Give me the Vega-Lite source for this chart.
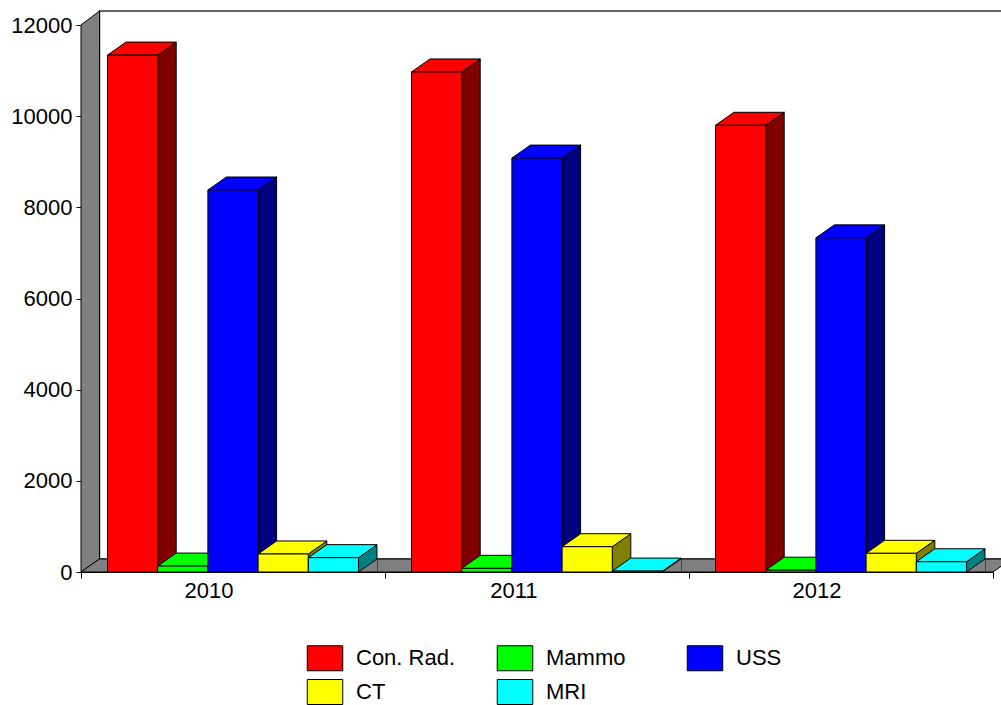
{
  "$schema": "https://vega.github.io/schema/vega-lite/v6.json",
  "width": 912,
  "height": 547,
  "autosize": {"type": "none"},
  "padding": {"left": 81, "top": 25, "right": 8, "bottom": 133},
  "background": "white",
  "config": {
    "view": {"stroke": null},
    "font": "Liberation Sans",
    "axis": {"labelFont": "Liberation Sans", "labelFontSize": 22, "labelColor": "black", "tickColor": "black", "domainColor": "black", "grid": false, "title": null},
    "legend": {"orient": "none", "legendX": 231, "legendY": 620, "direction": "horizontal", "columns": 3, "gridAlign": "all", "columnPadding": 39, "rowPadding": 4, "symbolType": "M -1.42 -1 L 1.42 -1 L 1.42 1 L -1.42 1 Z", "symbolSize": 625, "symbolStrokeColor": "black", "symbolStrokeWidth": 1, "symbolOpacity": 1, "labelFontSize": 22, "labelFont": "Liberation Sans", "labelColor": "black", "labelOffset": 18, "title": null}
  },
  "datasets": {
    "bars": [
      {"year": "2010", "series": "Con. Rad.", "value": 11340},
      {"year": "2010", "series": "Mammo", "value": 130},
      {"year": "2010", "series": "USS", "value": 8380},
      {"year": "2010", "series": "CT", "value": 395},
      {"year": "2010", "series": "MRI", "value": 315},
      {"year": "2011", "series": "Con. Rad.", "value": 10970},
      {"year": "2011", "series": "Mammo", "value": 80},
      {"year": "2011", "series": "USS", "value": 9080},
      {"year": "2011", "series": "CT", "value": 555},
      {"year": "2011", "series": "MRI", "value": 20},
      {"year": "2012", "series": "Con. Rad.", "value": 9800},
      {"year": "2012", "series": "Mammo", "value": 40},
      {"year": "2012", "series": "USS", "value": 7330},
      {"year": "2012", "series": "CT", "value": 410},
      {"year": "2012", "series": "MRI", "value": 225}
    ]
  },
  "resolve": {"legend": {"fill": "independent", "color": "independent"}},
  "layer": [
    {
      "data": {"values": [{}]},
      "mark": {"type": "point", "shape": "M -437.5 -13 L -437.5 -561 L 480 -561 L 480 -13 Z", "size": 4, "filled": true, "opacity": 1, "fill": "white", "stroke": "#333333", "strokeWidth": 1.5},
      "encoding": {
        "x": {"datum": "2011", "type": "nominal", "scale": {"paddingInner": 0, "paddingOuter": 0}},
        "y": {"datum": 0, "type": "quantitative", "scale": {"domain": [0, 12000], "nice": false}}
      }
    },
    {
      "data": {"values": [{}]},
      "mark": {"type": "point", "shape": "M -456 0 L -456 -547 L -437.5 -561 L -437.5 -13 Z", "size": 4, "filled": true, "opacity": 1, "fill": "#808080", "stroke": "black", "strokeWidth": 1},
      "encoding": {
        "x": {"datum": "2011", "type": "nominal"},
        "y": {"datum": 0, "type": "quantitative"}
      }
    },
    {
      "data": {"values": [{}]},
      "mark": {"type": "point", "shape": "M -456 0 L 456 0 L 474.5 -13 L -437.5 -13 Z", "size": 4, "filled": true, "opacity": 1, "fill": "#808080", "stroke": "black", "strokeWidth": 1},
      "encoding": {
        "x": {"datum": "2011", "type": "nominal"},
        "y": {"datum": 0, "type": "quantitative"}
      }
    },
    {
      "data": {"name": "bars"},
      "mark": {"type": "point", "shape": "M 25.1 0 L 43.6 -13 L 43.6 700 L 25.1 700 Z", "size": 4, "filled": true, "opacity": 1, "stroke": "black", "strokeWidth": 1, "clip": true},
      "encoding": {
        "x": {"field": "year", "type": "nominal"},
        "xOffset": {"field": "series", "type": "nominal", "sort": ["Con. Rad.", "Mammo", "USS", "CT", "MRI"], "scale": {"paddingInner": 0, "paddingOuter": 0.528}},
        "y": {"field": "value", "type": "quantitative"},
        "fill": {"field": "series", "type": "nominal", "scale": {"domain": ["Con. Rad.", "Mammo", "USS", "CT", "MRI"], "range": ["#800000", "#008000", "#000080", "#808000", "#008080"]}, "legend": null}
      }
    },
    {
      "data": {"name": "bars"},
      "mark": {"type": "point", "shape": "M 43.6 0 L 25.1 0 L 43.6 -13", "size": 4, "filled": true, "opacity": 1, "fill": "#808080", "stroke": "black", "strokeWidth": 1},
      "encoding": {
        "x": {"field": "year", "type": "nominal"},
        "xOffset": {"field": "series", "type": "nominal", "sort": ["Con. Rad.", "Mammo", "USS", "CT", "MRI"]},
        "y": {"datum": 0, "type": "quantitative"}
      }
    },
    {
      "data": {"name": "bars"},
      "mark": {"type": "point", "shape": "M -25.1 0 L 25.1 0 L 43.6 -13 L -6.6 -13 Z", "size": 4, "filled": true, "opacity": 1, "stroke": "black", "strokeWidth": 1},
      "encoding": {
        "x": {"field": "year", "type": "nominal"},
        "xOffset": {"field": "series", "type": "nominal", "sort": ["Con. Rad.", "Mammo", "USS", "CT", "MRI"]},
        "y": {"field": "value", "type": "quantitative"},
        "color": {"field": "series", "type": "nominal", "scale": {"domain": ["Con. Rad.", "Mammo", "USS", "CT", "MRI"], "range": ["#FF0000", "#00FF00", "#0000FF", "#FFFF00", "#00FFFF"]}, "legend": null}
      }
    },
    {
      "data": {"name": "bars"},
      "mark": {"type": "bar", "stroke": "black", "strokeWidth": 1, "opacity": 1},
      "encoding": {
        "x": {"field": "year", "type": "nominal", "axis": {"tickBand": "extent", "tickSize": 6, "labelPadding": 2, "labelAngle": 0, "labelBaseline": "top", "domain": true}},
        "xOffset": {"field": "series", "type": "nominal", "sort": ["Con. Rad.", "Mammo", "USS", "CT", "MRI"]},
        "y": {"field": "value", "type": "quantitative", "axis": {"values": [0, 2000, 4000, 6000, 8000, 10000, 12000], "format": "d", "tickSize": 5, "labelPadding": 4, "domain": true}},
        "color": {
          "field": "series", "type": "nominal",
          "scale": {"domain": ["Con. Rad.", "Mammo", "USS", "CT", "MRI"], "range": ["#FF0000", "#00FF00", "#0000FF", "#FFFF00", "#00FFFF"]},
          "legend": {"orient": "none", "legendX": 231, "legendY": 620}
        }
      }
    }
  ]
}
